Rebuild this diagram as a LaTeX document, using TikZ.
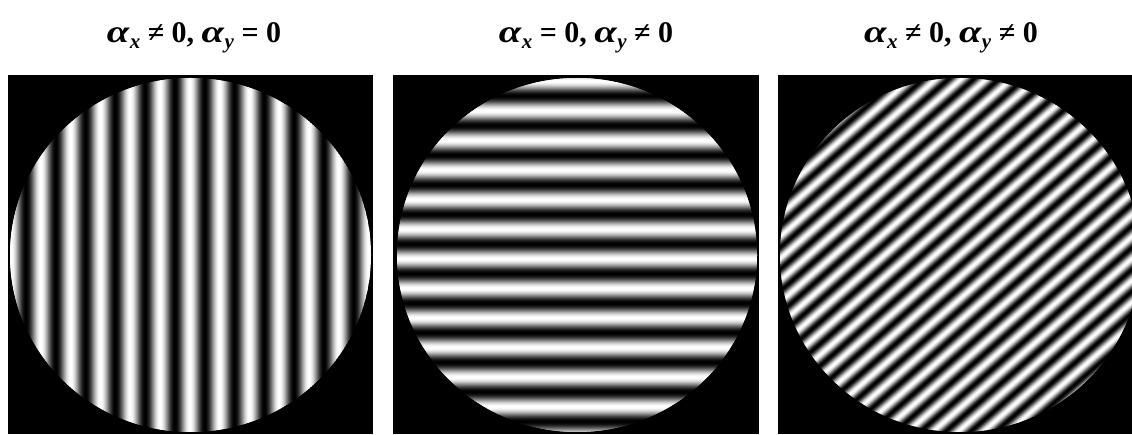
\documentclass[tikz,border=0pt]{standalone}
\usepackage{fontspec}
\setmainfont{Liberation Serif}
\newcommand{\sbx}[1]{\raisebox{-6pt}{\fontsize{21}{21}\selectfont\textit{#1}}}
\newcommand{\alp}{\scalebox{1.35}[1.05]{\textit{α}}}
\tikzset{
  title/.style={anchor=base, font=\fontsize{30}{34}\selectfont\bfseries, inner sep=0pt},
  panelbg/.style={fill=black}
}
\begin{document}
\begin{tikzpicture}[x=1pt,y=1pt]
\useasboundingbox (0,0) rectangle (1132,434);
% titles
\node[title] (t1) at (194,391.7) {\alp\sbx{x} ≠ 0, \alp\sbx{y} = 0};
\node[title] (t2) at (586,391.7) {\alp\sbx{x} = 0, \alp\sbx{y} ≠ 0};
\node[title] (t3) at (951,391.7) {\alp\sbx{x} ≠ 0, \alp\sbx{y} ≠ 0};
% panel 1: vertical fringes
\fill[panelbg] (8,0) rectangle (373,359);
\begin{scope}
\clip (190.5,179) ellipse [x radius=180.5, y radius=177];
\foreach \i in {0,...,362} {
  \pgfmathsetmacro{\xx}{9+\i}
  \pgfmathsetmacro{\g}{50-50*cos((\xx+0.5-190)/29.8*360)}
  \fill[black!\g] (\xx,0) rectangle ++(1.6,359);
}
\end{scope}
% panel 2: horizontal fringes
\fill[panelbg] (393,0) rectangle (759,359);
\begin{scope}
\clip (577,179) ellipse [x radius=180, y radius=177];
\foreach \i in {0,...,356} {
  \pgfmathsetmacro{\yy}{1+\i}
  \pgfmathsetmacro{\g}{50-50*cos((\yy+0.5-175)/29.6*360)}
  \fill[black!\g] (395,\yy) rectangle (760,\yy+1.6);
}
\end{scope}
% panel 3: oblique fringes
\fill[panelbg] (778,0) rectangle (1132,359);
\begin{scope}
\clip (778,0) rectangle (1132,359);
\clip (960,179) ellipse [x radius=180, y radius=177];
\begin{scope}[shift={(960,179)}, rotate=41]
\foreach \i in {0,...,380} {
  \pgfmathsetmacro{\yy}{-190+\i}
  \pgfmathsetmacro{\g}{50-50*cos((\yy+0.5)/16.5*360)}
  \fill[black!\g] (-200,\yy) rectangle (200,\yy+1.6);
}
\end{scope}
\end{scope}
\end{tikzpicture}
\end{document}
